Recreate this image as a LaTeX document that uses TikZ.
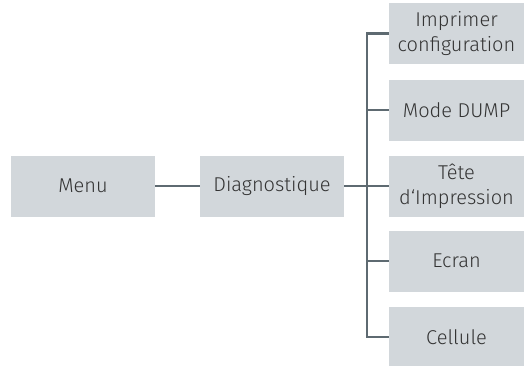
\documentclass[tikz,border=0pt]{standalone}
\usepackage{fontspec}
\setmainfont{Fira Sans Light}
\definecolor{boxgray}{HTML}{D2D7DB}
\definecolor{linegray}{HTML}{5E6A71}
\definecolor{textgray}{HTML}{333333}
\tikzset{
  menubox/.style={fill=boxgray, text=textgray, minimum width=144pt, minimum height=61pt,
    inner sep=0pt, align=center, font=\fontsize{20}{25}\selectfont},
  subbox/.style={menubox, minimum width=135pt},
  link/.style={draw=linegray, line width=2.4pt}
}
\begin{document}
\begin{tikzpicture}[x=1pt, y=-1pt]
  \useasboundingbox (0,0) rectangle (524,365);
  \def\spine{367}
  \node[menubox] (menu) at (83,186) {Menu};
  \node[menubox] (diag) at (272,186) {Diagnostique};
  \node[subbox] (print) at (456.5,33.5) {Imprimer\\configuration};
  \node[subbox] (dump) at (456.5,110) {Mode DUMP};
  \node[subbox] (head) at (456.5,186) {Tête\\d‘Impression};
  \node[subbox] (screen) at (456.5,261) {Ecran};
  \node[subbox] (cell) at (456.5,337) {Cellule};
  \draw[link] (menu) -- (diag);
  \draw[link] (diag) -- (head);
  \draw[link] (print.west) -| (\spine,0 |- cell.west) -- (cell.west);
  \foreach \n in {dump,screen}
    \draw[link] (\n.west) -- (\spine,0 |- \n.west);
\end{tikzpicture}
\end{document}
